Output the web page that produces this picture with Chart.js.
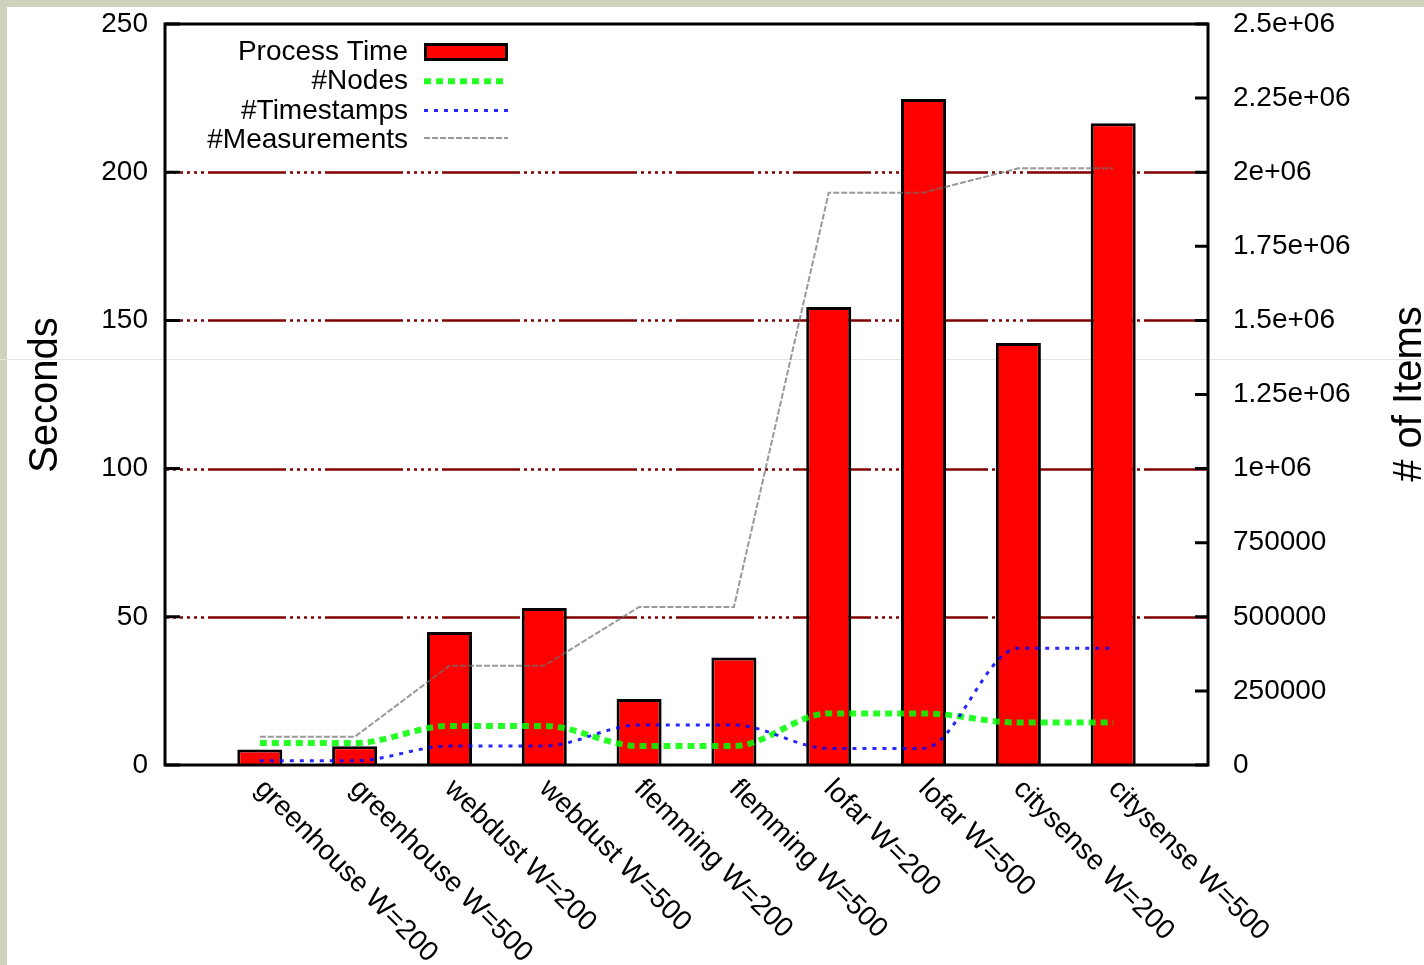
<!DOCTYPE html>
<html>
<head>
<meta charset="utf-8">
<title>Process time and item counts per dataset</title>
<script src="https://cdn.jsdelivr.net/npm/chart.js@4.4.1/dist/chart.umd.min.js"></script>
<style>
  html, body { margin: 0; padding: 0; background: #fff; }
  #wrap { width: 1424px; height: 965px; }
</style>
</head>
<body>
<div id="wrap"><canvas id="c" width="1424" height="965"></canvas></div>
<script>
// Datasets and window sizes
const categories = [
  'greenhouse W=200', 'greenhouse W=500',
  'webdust W=200', 'webdust W=500',
  'flemming W=200', 'flemming W=500',
  'lofar W=200', 'lofar W=500',
  'citysense W=200', 'citysense W=500'
];
// Left axis: seconds
const processTime = [5.2, 6.3, 44.9, 53.0, 22.3, 36.3, 154.5, 224.7, 142.4, 216.5];
// Right axis: number of items
const nodeCounts = [74000, 74000, 132000, 132000, 64000, 64000, 174000, 174000, 143000, 143000];
const timestampCounts = [14500, 14500, 64000, 64000, 135000, 135000, 56000, 56000, 394000, 394000];
const measurementCounts = [95000, 95000, 335000, 335000, 533000, 533000, 1931000, 1931000, 2013000, 2013000];

const secondsTickLabels = ['0', '50', '100', '150', '200', '250'];
const itemTickLabels = ['0', '250000', '500000', '750000', '1e+06', '1.25e+06',
  '1.5e+06', '1.75e+06', '2e+06', '2.25e+06', '2.5e+06'];

const FONT = "'Liberation Sans', Arial, sans-serif";

const asPoints = (arr) => arr.map((v, i) => ({ x: i + 1, y: v }));

const frame = {
  id: 'frame',
  beforeDraw(chart) {
    const { ctx, width, height } = chart;
    ctx.save();
    ctx.fillStyle = '#ffffff';
    ctx.fillRect(0, 0, width, height);
    ctx.fillStyle = 'rgb(206,210,189)';
    ctx.fillRect(0, 0, width, 7);
    ctx.fillRect(0, 0, 7, height);
    ctx.fillStyle = 'rgb(229,229,221)';
    ctx.fillRect(0, 359, width, 1);
    ctx.restore();
  },
  beforeDatasetsDraw(chart) {
    // dotted-dashed horizontal grid on the seconds axis
    const { ctx, chartArea: a } = chart;
    const y = chart.scales.y;
    ctx.save();
    ctx.strokeStyle = 'rgb(128,0,0)';
    ctx.lineWidth = 2.5;
    ctx.setLineDash([78, 4, 3, 4, 3, 4, 3, 4, 3, 4, 3, 4]);
    ctx.lineDashOffset = 74;
    y.ticks.forEach((t) => {
      if (t.value <= y.min || t.value >= y.max) return;
      const py = Math.round(y.getPixelForValue(t.value)) + 0.5;
      ctx.beginPath();
      ctx.moveTo(a.left, py);
      ctx.lineTo(a.right, py);
      ctx.stroke();
    });
    ctx.restore();
  },
  afterDatasetsDraw(chart) {
    const { ctx, chartArea: a } = chart;
    const y = chart.scales.y, y2 = chart.scales.y2, x = chart.scales.x;
    ctx.save();
    // border
    ctx.strokeStyle = '#000';
    ctx.lineWidth = 3;
    ctx.setLineDash([]);
    ctx.strokeRect(a.left, a.top, a.right - a.left, a.bottom - a.top);
    // inward tick marks
    ctx.beginPath();
    y.ticks.forEach((t) => {
      const py = y.getPixelForValue(t.value);
      ctx.moveTo(a.left, py); ctx.lineTo(a.left + 15, py);
    });
    y2.ticks.forEach((t) => {
      const py = y2.getPixelForValue(t.value);
      ctx.moveTo(a.right, py); ctx.lineTo(a.right - 13, py);
    });
    ctx.stroke();

    // slanted category labels
    ctx.fillStyle = '#000';
    ctx.font = '28px ' + FONT;
    ctx.textAlign = 'left';
    ctx.textBaseline = 'alphabetic';
    categories.forEach((c, i) => {
      const px = x.getPixelForValue(i + 1);
      ctx.save();
      ctx.translate(px - 6, a.bottom + 25);
      ctx.rotate(Math.PI / 4);
      ctx.fillText(c, 0, 0);
      ctx.restore();
    });

    // axis titles
    ctx.font = '40px ' + FONT;
    ctx.textAlign = 'center';
    ctx.save();
    ctx.translate(57, 395);
    ctx.rotate(-Math.PI / 2);
    ctx.fillText('Seconds', 0, 0);
    ctx.restore();
    ctx.save();
    ctx.translate(1421, 394);
    ctx.rotate(-Math.PI / 2);
    ctx.fillText('# of Items', 0, 0);
    ctx.restore();

    // key
    ctx.font = '28px ' + FONT;
    ctx.textAlign = 'right';
    const ds = chart.data.datasets;
    ds.forEach((d, i) => {
      const base = 60 + i * 29.3;
      ctx.fillStyle = '#000';
      ctx.fillText(d.label, 408, base);
      const cy = base - 8 - (i === 3 ? 2 : 0);
      if (d.type === 'line') {
        ctx.save();
        ctx.strokeStyle = d.borderColor;
        ctx.lineWidth = d.borderWidth;
        ctx.setLineDash(d.borderDash);
        ctx.beginPath();
        ctx.moveTo(424, cy);
        ctx.lineTo(508, cy);
        ctx.stroke();
        ctx.restore();
      } else {
        ctx.fillStyle = d.backgroundColor;
        ctx.fillRect(425.5, 44.5, 81, 15);
        ctx.strokeStyle = d.borderColor;
        ctx.lineWidth = 3;
        ctx.strokeRect(425.5, 44.5, 81, 15);
      }
    });
    ctx.restore();
  }
};

const fixWidth = (w) => (s) => {
  s.width = w;
  s.paddingTop = 0;
  s.paddingBottom = 0;
};

new Chart(document.getElementById('c'), {
  type: 'bar',
  data: {
    datasets: [
      {
        type: 'bar',
        label: 'Process Time',
        data: asPoints(processTime),
        yAxisID: 'y',
        backgroundColor: '#ff0000',
        borderColor: '#000000',
        borderWidth: 3,
        barPercentage: 0.475,
        categoryPercentage: 1,
        order: 5
      },
      {
        type: 'line',
        label: '#Nodes',
        data: asPoints(nodeCounts),
        yAxisID: 'y2',
        borderColor: 'rgba(0,255,0,0.85)',
        borderWidth: 6,
        borderDash: [7, 5],
        cubicInterpolationMode: 'monotone',
        pointRadius: 0,
        fill: false,
        order: 3
      },
      {
        type: 'line',
        label: '#Timestamps',
        data: asPoints(timestampCounts),
        yAxisID: 'y2',
        borderColor: 'rgba(0,0,255,0.85)',
        borderWidth: 3,
        borderDash: [4, 6],
        cubicInterpolationMode: 'monotone',
        pointRadius: 0,
        fill: false,
        order: 2
      },
      {
        type: 'line',
        label: '#Measurements',
        data: asPoints(measurementCounts),
        yAxisID: 'y2',
        borderColor: 'rgba(110,110,110,0.7)',
        borderWidth: 2,
        borderDash: [6, 2],
        tension: 0,
        pointRadius: 0,
        fill: false,
        order: 4
      }
    ]
  },
  options: {
    responsive: false,
    animation: false,
    layout: { padding: { top: 24, bottom: 200, left: 0, right: 0 } },
    plugins: { legend: { display: false }, tooltip: { enabled: false } },
    scales: {
      x: {
        type: 'linear',
        display: false,
        offset: false,
        min: 0,
        max: categories.length + 1
      },
      y: {
        position: 'left',
        min: 0,
        max: 250,
        grid: { display: false, drawTicks: false },
        border: { display: false },
        ticks: {
          stepSize: 50,
          autoSkip: false,
          padding: 17,
          color: '#000',
          font: { family: FONT, size: 28 },
          callback: (v, i) => secondsTickLabels[i]
        },
        afterFit: fixWidth(165)
      },
      y2: {
        position: 'right',
        min: 0,
        max: 2500000,
        grid: { display: false, drawTicks: false },
        border: { display: false },
        ticks: {
          stepSize: 250000,
          autoSkip: false,
          padding: 25,
          color: '#000',
          font: { family: FONT, size: 28 },
          callback: (v, i) => itemTickLabels[i]
        },
        afterFit: fixWidth(216)
      }
    }
  },
  plugins: [frame]
});
</script>
</body>
</html>
